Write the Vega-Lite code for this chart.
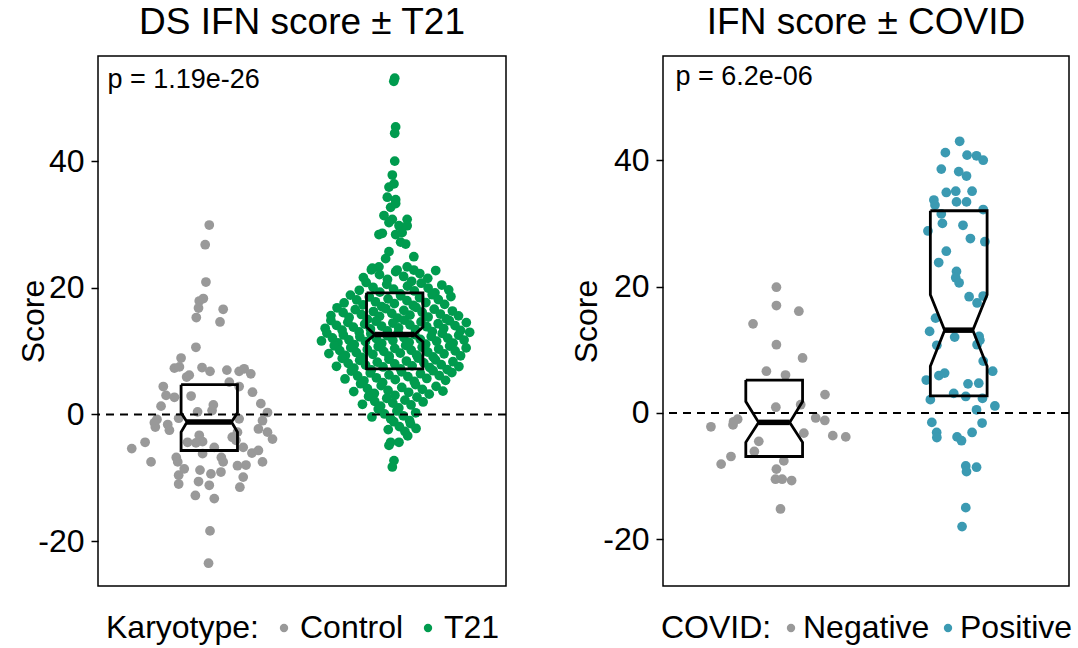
{
  "$schema": "https://vega.github.io/schema/vega-lite/v6.json",
  "padding": {"left": 17, "top": 3, "right": 2, "bottom": 2},
  "config": {
    "font": "Liberation Sans",
    "view": {"stroke": "black", "strokeWidth": 1.5},
    "axis": {"domain": false, "grid": false, "tickColor": "black", "tickWidth": 1.5, "tickSize": 7, "labelFontSize": 32, "labelColor": "black", "labelPadding": 7, "titleFontSize": 32, "titleFontWeight": "normal", "titleColor": "black", "titlePadding": -13, "labelFont": "Liberation Sans", "titleFont": "Liberation Sans", "labelExpr": "datum.value < 0 ? '-' + abs(datum.value) : '' + datum.value"},
    "title": {"fontSize": 37, "fontWeight": "normal", "color": "black", "offset": 14, "anchor": "middle", "frame": "group", "font": "Liberation Sans"},
    "legend": {"titleFontSize": 32, "labelFontSize": 32, "titleFontWeight": "normal", "titleColor": "black", "labelColor": "black", "symbolSize": 70, "symbolType": "circle", "symbolStrokeWidth": 0, "titlePadding": 9, "labelOffset": 0, "columnPadding": 8, "titleFont": "Liberation Sans", "labelFont": "Liberation Sans"}
  },
  "datasets": {
    "ds": [
      {"group":"Control","score":29.9,"jitter":0},{"group":"Control","score":26.8,"jitter":-0.022},{"group":"Control","score":20.9,"jitter":-0.018},{"group":"Control","score":17.9,"jitter":-0.054},{"group":"Control","score":18.3,"jitter":-0.032},{"group":"Control","score":16.8,"jitter":-0.058},{"group":"Control","score":16.6,"jitter":0.075},{"group":"Control","score":15.3,"jitter":-0.07},{"group":"Control","score":14.6,"jitter":0.058},{"group":"Control","score":10.6,"jitter":-0.072},
      {"group":"Control","score":8.9,"jitter":-0.152},{"group":"Control","score":7.3,"jitter":-0.188},{"group":"Control","score":7.5,"jitter":-0.161},{"group":"Control","score":7.4,"jitter":-0.039},{"group":"Control","score":6.8,"jitter":0.004},{"group":"Control","score":7.0,"jitter":0.095},{"group":"Control","score":6.8,"jitter":0.161},{"group":"Control","score":7.2,"jitter":0.188},{"group":"Control","score":6.4,"jitter":0.224},{"group":"Control","score":5.9,"jitter":-0.122},
      {"group":"Control","score":6.2,"jitter":-0.108},{"group":"Control","score":4.4,"jitter":-0.248},{"group":"Control","score":3.0,"jitter":-0.233},{"group":"Control","score":2.7,"jitter":-0.188},{"group":"Control","score":2.9,"jitter":-0.098},{"group":"Control","score":4.4,"jitter":0.161},{"group":"Control","score":3.5,"jitter":0.233},{"group":"Control","score":1.7,"jitter":0.278},{"group":"Control","score":1.3,"jitter":-0.26},{"group":"Control","score":0.4,"jitter":-0.063},
      {"group":"Control","score":0.6,"jitter":0.015},{"group":"Control","score":0.3,"jitter":0.314},{"group":"Control","score":-0.6,"jitter":-0.165},{"group":"Control","score":-1.3,"jitter":-0.296},{"group":"Control","score":-2.0,"jitter":-0.291},{"group":"Control","score":-1.6,"jitter":-0.224},{"group":"Control","score":-2.5,"jitter":-0.215},{"group":"Control","score":-1.0,"jitter":0.287},{"group":"Control","score":-2.3,"jitter":0.265},{"group":"Control","score":-0.7,"jitter":0.161},
      {"group":"Control","score":-2.8,"jitter":0.152},{"group":"Control","score":-2.8,"jitter":0.314},{"group":"Control","score":-3.9,"jitter":0.341},{"group":"Control","score":-3.3,"jitter":-0.054},{"group":"Control","score":-4.3,"jitter":-0.036},{"group":"Control","score":-4.5,"jitter":-0.072},{"group":"Control","score":-4.4,"jitter":-0.117},{"group":"Control","score":-4.4,"jitter":-0.346},{"group":"Control","score":-5.4,"jitter":-0.418},{"group":"Control","score":-4.1,"jitter":0.144},
      {"group":"Control","score":-5.2,"jitter":0.027},{"group":"Control","score":-5.2,"jitter":0.183},{"group":"Control","score":-6.2,"jitter":-0.036},{"group":"Control","score":-6.1,"jitter":0.23},{"group":"Control","score":-5.7,"jitter":0.265},{"group":"Control","score":-6.8,"jitter":-0.178},{"group":"Control","score":-7.5,"jitter":-0.17},{"group":"Control","score":-7.5,"jitter":-0.314},{"group":"Control","score":-6.8,"jitter":0.065},{"group":"Control","score":-7.5,"jitter":0.075},
      {"group":"Control","score":-8.1,"jitter":0.152},{"group":"Control","score":-8.0,"jitter":0.198},{"group":"Control","score":-7.5,"jitter":0.287},{"group":"Control","score":-8.8,"jitter":-0.05},{"group":"Control","score":-9.6,"jitter":-0.165},{"group":"Control","score":-11.0,"jitter":-0.165},{"group":"Control","score":-9.4,"jitter":0.009},{"group":"Control","score":-9.1,"jitter":0.063},{"group":"Control","score":-9.9,"jitter":0.183},{"group":"Control","score":-10.6,"jitter":-0.058},
      {"group":"Control","score":-11.2,"jitter":0},{"group":"Control","score":-11.5,"jitter":0.165},{"group":"Control","score":-12.8,"jitter":-0.075},{"group":"Control","score":-13.3,"jitter":0.027},{"group":"Control","score":-18.4,"jitter":0.004},{"group":"Control","score":-23.5,"jitter":-0.004},{"group":"Control","score":1.5,"jitter":0.022},{"group":"Control","score":-3.6,"jitter":0.124},{"group":"Control","score":-0.8,"jitter":-0.282},{"group":"Control","score":-8.6,"jitter":-0.135},{"group":"Control","score":5.1,"jitter":0.108},
      {"group":"T21","score":53.1,"jitter":0},{"group":"T21","score":52.6,"jitter":-0.005},{"group":"T21","score":45.4,"jitter":0.005},{"group":"T21","score":44.4,"jitter":0},{"group":"T21","score":40.0,"jitter":0},{"group":"T21","score":37.8,"jitter":-0.013},{"group":"T21","score":35.9,"jitter":-0.031},{"group":"T21","score":36.4,"jitter":-0.004},{"group":"T21","score":34.3,"jitter":-0.04},{"group":"T21","score":33.9,"jitter":0.005},
      {"group":"T21","score":32.7,"jitter":-0.022},{"group":"T21","score":33.3,"jitter":0.005},{"group":"T21","score":31.4,"jitter":-0.058},{"group":"T21","score":30.8,"jitter":-0.013},{"group":"T21","score":30.8,"jitter":0.067},{"group":"T21","score":30.3,"jitter":-0.031},{"group":"T21","score":29.8,"jitter":0.023},{"group":"T21","score":29.8,"jitter":0.067},{"group":"T21","score":28.4,"jitter":-0.085},{"group":"T21","score":28.6,"jitter":-0.067},
      {"group":"T21","score":28.4,"jitter":0.005},{"group":"T21","score":28.7,"jitter":0.04},{"group":"T21","score":27.2,"jitter":0.032},{"group":"T21","score":26.9,"jitter":0.059},{"group":"T21","score":25.7,"jitter":-0.031},{"group":"T21","score":24.6,"jitter":-0.049},{"group":"T21","score":24.9,"jitter":0.103},{"group":"T21","score":23.1,"jitter":-0.121},{"group":"T21","score":23.3,"jitter":-0.085},{"group":"T21","score":22.8,"jitter":0.013},{"group":"T21","score":23.3,"jitter":0.067},{"group":"T21","score":22.8,"jitter":0.103},
      {"group":"T21","score":21.6,"jitter":-0.169},{"group":"T21","score":22.84,"jitter":-0.126},{"group":"T21","score":22.07,"jitter":-0.082},{"group":"T21","score":21.31,"jitter":-0.039},{"group":"T21","score":22.54,"jitter":0.005},{"group":"T21","score":21.78,"jitter":0.048},{"group":"T21","score":21.02,"jitter":0.091},{"group":"T21","score":22.25,"jitter":0.135},{"group":"T21","score":21.49,"jitter":0.178},{"group":"T21","score":22.72,"jitter":0.221},
      {"group":"T21","score":19.6,"jitter":-0.191},{"group":"T21","score":20.84,"jitter":-0.154},{"group":"T21","score":20.07,"jitter":-0.117},{"group":"T21","score":19.31,"jitter":-0.08},{"group":"T21","score":20.54,"jitter":-0.043},{"group":"T21","score":19.78,"jitter":-0.006},{"group":"T21","score":19.02,"jitter":0.031},{"group":"T21","score":20.25,"jitter":0.069},{"group":"T21","score":19.49,"jitter":0.106},{"group":"T21","score":20.72,"jitter":0.143},{"group":"T21","score":19.96,"jitter":0.18},{"group":"T21","score":19.2,"jitter":0.217},{"group":"T21","score":20.43,"jitter":0.254},{"group":"T21","score":19.67,"jitter":0.291},
      {"group":"T21","score":17.6,"jitter":-0.273},{"group":"T21","score":18.84,"jitter":-0.239},{"group":"T21","score":18.07,"jitter":-0.205},{"group":"T21","score":17.31,"jitter":-0.171},{"group":"T21","score":18.54,"jitter":-0.137},{"group":"T21","score":17.78,"jitter":-0.104},{"group":"T21","score":17.02,"jitter":-0.07},{"group":"T21","score":18.25,"jitter":-0.036},{"group":"T21","score":17.49,"jitter":-0.002},{"group":"T21","score":18.72,"jitter":0.032},{"group":"T21","score":17.96,"jitter":0.066},{"group":"T21","score":17.2,"jitter":0.1},{"group":"T21","score":18.43,"jitter":0.134},{"group":"T21","score":17.67,"jitter":0.168},{"group":"T21","score":18.9,"jitter":0.202},{"group":"T21","score":18.14,"jitter":0.235},{"group":"T21","score":17.38,"jitter":0.269},{"group":"T21","score":18.61,"jitter":0.303},
      {"group":"T21","score":15.6,"jitter":-0.344},{"group":"T21","score":16.84,"jitter":-0.311},{"group":"T21","score":16.07,"jitter":-0.278},{"group":"T21","score":15.31,"jitter":-0.246},{"group":"T21","score":16.54,"jitter":-0.213},{"group":"T21","score":15.78,"jitter":-0.18},{"group":"T21","score":15.02,"jitter":-0.148},{"group":"T21","score":16.25,"jitter":-0.115},{"group":"T21","score":15.49,"jitter":-0.082},{"group":"T21","score":16.72,"jitter":-0.049},{"group":"T21","score":15.96,"jitter":-0.016},{"group":"T21","score":15.2,"jitter":0.016},{"group":"T21","score":16.43,"jitter":0.049},{"group":"T21","score":15.67,"jitter":0.082},{"group":"T21","score":16.9,"jitter":0.115},{"group":"T21","score":16.14,"jitter":0.148},{"group":"T21","score":15.38,"jitter":0.18},{"group":"T21","score":16.61,"jitter":0.213},{"group":"T21","score":15.85,"jitter":0.246},{"group":"T21","score":15.08,"jitter":0.278},{"group":"T21","score":16.32,"jitter":0.311},{"group":"T21","score":15.56,"jitter":0.344},
      {"group":"T21","score":13.6,"jitter":-0.375},{"group":"T21","score":14.84,"jitter":-0.344},{"group":"T21","score":14.07,"jitter":-0.314},{"group":"T21","score":13.31,"jitter":-0.284},{"group":"T21","score":14.54,"jitter":-0.253},{"group":"T21","score":13.78,"jitter":-0.223},{"group":"T21","score":13.02,"jitter":-0.192},{"group":"T21","score":14.25,"jitter":-0.162},{"group":"T21","score":13.49,"jitter":-0.131},{"group":"T21","score":14.72,"jitter":-0.101},{"group":"T21","score":13.96,"jitter":-0.071},{"group":"T21","score":13.2,"jitter":-0.04},{"group":"T21","score":14.43,"jitter":-0.01},{"group":"T21","score":13.67,"jitter":0.021},{"group":"T21","score":14.9,"jitter":0.051},{"group":"T21","score":14.14,"jitter":0.082},{"group":"T21","score":13.38,"jitter":0.112},{"group":"T21","score":14.61,"jitter":0.142},{"group":"T21","score":13.85,"jitter":0.173},{"group":"T21","score":13.08,"jitter":0.203},{"group":"T21","score":14.32,"jitter":0.234},{"group":"T21","score":13.56,"jitter":0.264},{"group":"T21","score":14.79,"jitter":0.295},{"group":"T21","score":14.03,"jitter":0.325},{"group":"T21","score":13.26,"jitter":0.355},{"group":"T21","score":14.5,"jitter":0.386},
      {"group":"T21","score":11.6,"jitter":-0.395},{"group":"T21","score":12.84,"jitter":-0.366},{"group":"T21","score":12.07,"jitter":-0.336},{"group":"T21","score":11.31,"jitter":-0.306},{"group":"T21","score":12.54,"jitter":-0.277},{"group":"T21","score":11.78,"jitter":-0.247},{"group":"T21","score":11.02,"jitter":-0.218},{"group":"T21","score":12.25,"jitter":-0.188},{"group":"T21","score":11.49,"jitter":-0.158},{"group":"T21","score":12.72,"jitter":-0.129},{"group":"T21","score":11.96,"jitter":-0.099},{"group":"T21","score":11.2,"jitter":-0.07},{"group":"T21","score":12.43,"jitter":-0.04},{"group":"T21","score":11.67,"jitter":-0.01},{"group":"T21","score":12.9,"jitter":0.019},{"group":"T21","score":12.14,"jitter":0.049},{"group":"T21","score":11.38,"jitter":0.078},{"group":"T21","score":12.61,"jitter":0.108},{"group":"T21","score":11.85,"jitter":0.138},{"group":"T21","score":11.08,"jitter":0.167},{"group":"T21","score":12.32,"jitter":0.197},{"group":"T21","score":11.56,"jitter":0.226},{"group":"T21","score":12.79,"jitter":0.256},{"group":"T21","score":12.03,"jitter":0.286},{"group":"T21","score":11.26,"jitter":0.315},{"group":"T21","score":12.5,"jitter":0.345},{"group":"T21","score":11.74,"jitter":0.374},{"group":"T21","score":12.97,"jitter":0.404},
      {"group":"T21","score":9.6,"jitter":-0.355},{"group":"T21","score":10.84,"jitter":-0.326},{"group":"T21","score":10.07,"jitter":-0.296},{"group":"T21","score":9.31,"jitter":-0.266},{"group":"T21","score":10.54,"jitter":-0.237},{"group":"T21","score":9.78,"jitter":-0.207},{"group":"T21","score":9.02,"jitter":-0.178},{"group":"T21","score":10.25,"jitter":-0.148},{"group":"T21","score":9.49,"jitter":-0.118},{"group":"T21","score":10.72,"jitter":-0.089},{"group":"T21","score":9.96,"jitter":-0.059},{"group":"T21","score":9.2,"jitter":-0.03},{"group":"T21","score":10.43,"jitter":0},{"group":"T21","score":9.67,"jitter":0.03},{"group":"T21","score":10.9,"jitter":0.059},{"group":"T21","score":10.14,"jitter":0.089},{"group":"T21","score":9.38,"jitter":0.118},{"group":"T21","score":10.61,"jitter":0.148},{"group":"T21","score":9.85,"jitter":0.178},{"group":"T21","score":9.08,"jitter":0.207},{"group":"T21","score":10.32,"jitter":0.237},{"group":"T21","score":9.56,"jitter":0.266},{"group":"T21","score":10.79,"jitter":0.296},{"group":"T21","score":10.03,"jitter":0.326},{"group":"T21","score":9.26,"jitter":0.355},{"group":"T21","score":10.5,"jitter":0.385},
      {"group":"T21","score":7.6,"jitter":-0.314},{"group":"T21","score":8.84,"jitter":-0.283},{"group":"T21","score":8.07,"jitter":-0.251},{"group":"T21","score":7.31,"jitter":-0.22},{"group":"T21","score":8.54,"jitter":-0.189},{"group":"T21","score":7.78,"jitter":-0.157},{"group":"T21","score":7.02,"jitter":-0.126},{"group":"T21","score":8.25,"jitter":-0.094},{"group":"T21","score":7.49,"jitter":-0.063},{"group":"T21","score":8.72,"jitter":-0.031},{"group":"T21","score":7.96,"jitter":0},{"group":"T21","score":7.2,"jitter":0.031},{"group":"T21","score":8.43,"jitter":0.063},{"group":"T21","score":7.67,"jitter":0.094},{"group":"T21","score":8.9,"jitter":0.126},{"group":"T21","score":8.14,"jitter":0.157},{"group":"T21","score":7.38,"jitter":0.189},{"group":"T21","score":8.61,"jitter":0.22},{"group":"T21","score":7.85,"jitter":0.251},{"group":"T21","score":7.08,"jitter":0.283},{"group":"T21","score":8.32,"jitter":0.314},{"group":"T21","score":7.56,"jitter":0.346},
      {"group":"T21","score":5.6,"jitter":-0.268},{"group":"T21","score":6.84,"jitter":-0.234},{"group":"T21","score":6.07,"jitter":-0.2},{"group":"T21","score":5.31,"jitter":-0.166},{"group":"T21","score":6.54,"jitter":-0.132},{"group":"T21","score":5.78,"jitter":-0.099},{"group":"T21","score":5.02,"jitter":-0.065},{"group":"T21","score":6.25,"jitter":-0.031},{"group":"T21","score":5.49,"jitter":0.003},{"group":"T21","score":6.72,"jitter":0.037},{"group":"T21","score":5.96,"jitter":0.071},{"group":"T21","score":5.2,"jitter":0.105},{"group":"T21","score":6.43,"jitter":0.139},{"group":"T21","score":5.67,"jitter":0.173},{"group":"T21","score":6.9,"jitter":0.207},{"group":"T21","score":6.14,"jitter":0.24},{"group":"T21","score":5.38,"jitter":0.274},{"group":"T21","score":6.61,"jitter":0.308},
      {"group":"T21","score":3.6,"jitter":-0.221},{"group":"T21","score":4.84,"jitter":-0.184},{"group":"T21","score":4.07,"jitter":-0.147},{"group":"T21","score":3.31,"jitter":-0.11},{"group":"T21","score":4.54,"jitter":-0.073},{"group":"T21","score":3.78,"jitter":-0.036},{"group":"T21","score":3.02,"jitter":0.001},{"group":"T21","score":4.25,"jitter":0.038},{"group":"T21","score":3.49,"jitter":0.075},{"group":"T21","score":4.72,"jitter":0.112},{"group":"T21","score":3.96,"jitter":0.149},{"group":"T21","score":3.2,"jitter":0.186},{"group":"T21","score":4.43,"jitter":0.223},{"group":"T21","score":3.67,"jitter":0.26},
      {"group":"T21","score":1.6,"jitter":-0.174},{"group":"T21","score":2.84,"jitter":-0.141},{"group":"T21","score":2.07,"jitter":-0.108},{"group":"T21","score":1.31,"jitter":-0.076},{"group":"T21","score":2.54,"jitter":-0.043},{"group":"T21","score":1.78,"jitter":-0.01},{"group":"T21","score":1.02,"jitter":0.022},{"group":"T21","score":2.25,"jitter":0.055},{"group":"T21","score":1.49,"jitter":0.088},{"group":"T21","score":2.72,"jitter":0.12},{"group":"T21","score":1.96,"jitter":0.153},
      {"group":"T21","score":-0.4,"jitter":-0.123},{"group":"T21","score":0.84,"jitter":-0.089},{"group":"T21","score":0.07,"jitter":-0.055},{"group":"T21","score":-0.69,"jitter":-0.022},{"group":"T21","score":0.54,"jitter":0.012},{"group":"T21","score":-0.22,"jitter":0.046},{"group":"T21","score":-0.98,"jitter":0.08},{"group":"T21","score":0.25,"jitter":0.113},
      {"group":"T21","score":-2.4,"jitter":-0.035},{"group":"T21","score":-1.16,"jitter":-0.005},{"group":"T21","score":-1.93,"jitter":0.025},{"group":"T21","score":-2.69,"jitter":0.055},{"group":"T21","score":-1.46,"jitter":0.085},{"group":"T21","score":-2.22,"jitter":0.115},
      {"group":"T21","score":-4.4,"jitter":-0.022},{"group":"T21","score":-4.4,"jitter":0.023},{"group":"T21","score":-4.9,"jitter":-0.031},{"group":"T21","score":-3.4,"jitter":0.07},{"group":"T21","score":-7.3,"jitter":-0.004},{"group":"T21","score":-8.3,"jitter":-0.013}
    ],
    "covid": [
      {"group":"Negative","score":19.9,"jitter":0.012},{"group":"Negative","score":17.0,"jitter":0.012},{"group":"Negative","score":16.1,"jitter":0.133},{"group":"Negative","score":14.1,"jitter":-0.114},{"group":"Negative","score":10.8,"jitter":0.012},{"group":"Negative","score":8.7,"jitter":0.153},{"group":"Negative","score":6.6,"jitter":-0.042},{"group":"Negative","score":6.0,"jitter":0.061},{"group":"Negative","score":2.9,"jitter":0.274},{"group":"Negative","score":0.9,"jitter":0.009},
      {"group":"Negative","score":1.3,"jitter":0.143},{"group":"Negative","score":-0.8,"jitter":0.224},{"group":"Negative","score":-1.2,"jitter":0.273},{"group":"Negative","score":-2.2,"jitter":-0.341},{"group":"Negative","score":-1.4,"jitter":-0.219},{"group":"Negative","score":-1.0,"jitter":-0.197},{"group":"Negative","score":-1.9,"jitter":-0.222},{"group":"Negative","score":-3.2,"jitter":0.16},{"group":"Negative","score":-3.6,"jitter":0.316},{"group":"Negative","score":-3.8,"jitter":0.386},
      {"group":"Negative","score":-4.5,"jitter":-0.083},{"group":"Negative","score":-6.1,"jitter":-0.107},{"group":"Negative","score":-6.9,"jitter":-0.233},{"group":"Negative","score":-8.1,"jitter":-0.286},{"group":"Negative","score":-7.6,"jitter":0.052},{"group":"Negative","score":-8.9,"jitter":0.012},{"group":"Negative","score":-10.5,"jitter":0.007},{"group":"Negative","score":-10.5,"jitter":0.043},{"group":"Negative","score":-10.7,"jitter":0.094},{"group":"Negative","score":-15.2,"jitter":0.034},
      {"group":"Positive","score":43.0,"jitter":0.005},{"group":"Positive","score":41.2,"jitter":-0.072},{"group":"Positive","score":40.8,"jitter":0.045},{"group":"Positive","score":40.7,"jitter":0.096},{"group":"Positive","score":40.0,"jitter":0.132},{"group":"Positive","score":38.6,"jitter":-0.094},{"group":"Positive","score":38.2,"jitter":0},{"group":"Positive","score":37.5,"jitter":0.042},{"group":"Positive","score":34.9,"jitter":-0.067},{"group":"Positive","score":35.1,"jitter":-0.016},
      {"group":"Positive","score":35.1,"jitter":0.072},{"group":"Positive","score":33.7,"jitter":-0.134},{"group":"Positive","score":32.9,"jitter":-0.128},{"group":"Positive","score":33.4,"jitter":-0.012},{"group":"Positive","score":33.4,"jitter":0.042},{"group":"Positive","score":32.2,"jitter":0.132},{"group":"Positive","score":31.5,"jitter":-0.094},{"group":"Positive","score":30.0,"jitter":-0.088},{"group":"Positive","score":28.8,"jitter":-0.166},{"group":"Positive","score":29.7,"jitter":0.023},
      {"group":"Positive","score":27.6,"jitter":0.063},{"group":"Positive","score":27.1,"jitter":0.141},{"group":"Positive","score":25.6,"jitter":-0.067},{"group":"Positive","score":23.8,"jitter":-0.108},{"group":"Positive","score":22.4,"jitter":-0.012},{"group":"Positive","score":21.4,"jitter":-0.016},{"group":"Positive","score":20.6,"jitter":0.002},{"group":"Positive","score":18.4,"jitter":0.056},{"group":"Positive","score":17.4,"jitter":0.099},{"group":"Positive","score":18.5,"jitter":0.132},
      {"group":"Positive","score":15.0,"jitter":-0.125},{"group":"Positive","score":12.9,"jitter":-0.157},{"group":"Positive","score":12.0,"jitter":-0.022},{"group":"Positive","score":12.1,"jitter":0.11},{"group":"Positive","score":11.5,"jitter":0.114},{"group":"Positive","score":10.8,"jitter":0.099},{"group":"Positive","score":10.7,"jitter":-0.118},{"group":"Positive","score":8.2,"jitter":0.132},{"group":"Positive","score":6.6,"jitter":0.183},{"group":"Positive","score":5.2,"jitter":-0.175},
      {"group":"Positive","score":5.9,"jitter":-0.107},{"group":"Positive","score":6.3,"jitter":-0.076},{"group":"Positive","score":4.6,"jitter":0.05},{"group":"Positive","score":4.7,"jitter":0.108},{"group":"Positive","score":3.1,"jitter":-0.027},{"group":"Positive","score":2.6,"jitter":0.038},{"group":"Positive","score":2.1,"jitter":-0.153},{"group":"Positive","score":2.3,"jitter":0.128},{"group":"Positive","score":1.1,"jitter":0.195},{"group":"Positive","score":0.5,"jitter":0.096},
      {"group":"Positive","score":-1.5,"jitter":-0.145},{"group":"Positive","score":-1.6,"jitter":0.126},{"group":"Positive","score":-3.1,"jitter":-0.119},{"group":"Positive","score":-3.9,"jitter":-0.118},{"group":"Positive","score":-3.1,"jitter":0.072},{"group":"Positive","score":-3.8,"jitter":-0.009},{"group":"Positive","score":-4.4,"jitter":0.015},{"group":"Positive","score":-8.4,"jitter":0.038},{"group":"Positive","score":-9.3,"jitter":0.042},{"group":"Positive","score":-8.6,"jitter":0.096},
      {"group":"Positive","score":-15.0,"jitter":0.038},{"group":"Positive","score":-18.0,"jitter":0.018}
    ],
    "box_ds": [
      {"group":"Control","part":"outline","ord":0,"dx":-0.152,"score":4.7},{"group":"Control","part":"outline","ord":1,"dx":0.152,"score":4.7},{"group":"Control","part":"outline","ord":2,"dx":0.152,"score":0.25},{"group":"Control","part":"outline","ord":3,"dx":0.12,"score":-1.2},{"group":"Control","part":"outline","ord":4,"dx":0.152,"score":-2.8},{"group":"Control","part":"outline","ord":5,"dx":0.152,"score":-5.7},{"group":"Control","part":"outline","ord":6,"dx":-0.152,"score":-5.7},{"group":"Control","part":"outline","ord":7,"dx":-0.152,"score":-2.8},{"group":"Control","part":"outline","ord":8,"dx":-0.12,"score":-1.2},{"group":"Control","part":"outline","ord":9,"dx":-0.152,"score":0.25},{"group":"Control","part":"outline","ord":10,"dx":-0.152,"score":4.7},
      {"group":"Control","part":"median","ord":0,"dx":-0.12,"score":-1.2},{"group":"Control","part":"median","ord":1,"dx":0.12,"score":-1.2},
      {"group":"T21","part":"outline","ord":0,"dx":-0.152,"score":19.2},{"group":"T21","part":"outline","ord":1,"dx":0.152,"score":19.2},{"group":"T21","part":"outline","ord":2,"dx":0.152,"score":13.8},{"group":"T21","part":"outline","ord":3,"dx":0.107,"score":12.6},{"group":"T21","part":"outline","ord":4,"dx":0.152,"score":11.5},{"group":"T21","part":"outline","ord":5,"dx":0.152,"score":7.2},{"group":"T21","part":"outline","ord":6,"dx":-0.152,"score":7.2},{"group":"T21","part":"outline","ord":7,"dx":-0.152,"score":11.5},{"group":"T21","part":"outline","ord":8,"dx":-0.107,"score":12.6},{"group":"T21","part":"outline","ord":9,"dx":-0.152,"score":13.8},{"group":"T21","part":"outline","ord":10,"dx":-0.152,"score":19.2},
      {"group":"T21","part":"median","ord":0,"dx":-0.107,"score":12.6},{"group":"T21","part":"median","ord":1,"dx":0.107,"score":12.6}
    ],
    "box_cv": [
      {"group":"Negative","part":"outline","ord":0,"dx":-0.153,"score":5.2},{"group":"Negative","part":"outline","ord":1,"dx":0.153,"score":5.2},{"group":"Negative","part":"outline","ord":2,"dx":0.153,"score":1.8},{"group":"Negative","part":"outline","ord":3,"dx":0.084,"score":-1.5},{"group":"Negative","part":"outline","ord":4,"dx":0.153,"score":-4.65},{"group":"Negative","part":"outline","ord":5,"dx":0.153,"score":-6.9},{"group":"Negative","part":"outline","ord":6,"dx":-0.153,"score":-6.9},{"group":"Negative","part":"outline","ord":7,"dx":-0.153,"score":-4.65},{"group":"Negative","part":"outline","ord":8,"dx":-0.084,"score":-1.5},{"group":"Negative","part":"outline","ord":9,"dx":-0.153,"score":1.8},{"group":"Negative","part":"outline","ord":10,"dx":-0.153,"score":5.2},
      {"group":"Negative","part":"median","ord":0,"dx":-0.084,"score":-1.5},{"group":"Negative","part":"median","ord":1,"dx":0.084,"score":-1.5},
      {"group":"Positive","part":"outline","ord":0,"dx":-0.153,"score":32.0},{"group":"Positive","part":"outline","ord":1,"dx":0.153,"score":32.0},{"group":"Positive","part":"outline","ord":2,"dx":0.153,"score":18.7},{"group":"Positive","part":"outline","ord":3,"dx":0.076,"score":13.1},{"group":"Positive","part":"outline","ord":4,"dx":0.153,"score":7.4},{"group":"Positive","part":"outline","ord":5,"dx":0.153,"score":2.7},{"group":"Positive","part":"outline","ord":6,"dx":-0.153,"score":2.7},{"group":"Positive","part":"outline","ord":7,"dx":-0.153,"score":7.4},{"group":"Positive","part":"outline","ord":8,"dx":-0.076,"score":13.1},{"group":"Positive","part":"outline","ord":9,"dx":-0.153,"score":18.7},{"group":"Positive","part":"outline","ord":10,"dx":-0.153,"score":32.0},
      {"group":"Positive","part":"median","ord":0,"dx":-0.076,"score":13.1},{"group":"Positive","part":"median","ord":1,"dx":0.076,"score":13.1}
    ]
  },
  "spacing": 62,
  "resolve": {"scale": {"color": "independent"}, "legend": {"color": "independent"}},
  "hconcat": [
    {
      "width": 408,
      "height": 530,
      "title": "DS IFN score ± T21",
      "layer": [
        {
          "data": {"name": "ds"},
          "mark": {"type": "circle", "size": 95, "opacity": 1},
          "encoding": {
            "x": {"field": "group", "type": "nominal", "axis": null, "scale": {"domain": ["Control", "T21"], "paddingInner": 0, "paddingOuter": 0.1}},
            "xOffset": {"field": "jitter", "type": "quantitative", "scale": {"domain": [-0.5, 0.5]}},
            "y": {"field": "score", "type": "quantitative", "scale": {"domain": [-27.1, 56.6], "nice": false, "zero": false}, "axis": {"title": "Score", "values": [-20, 0, 20, 40]}},
            "color": {"field": "group", "type": "nominal", "scale": {"domain": ["Control", "T21"], "range": ["#999999", "#009B4E"]}, "legend": {"title": "Karyotype:", "orient": "none", "legendX": 8, "legendY": 556, "direction": "horizontal", "titleOrient": "left"}}
          }
        },
        {
          "data": {"values": [{}]},
          "mark": {"type": "rule", "strokeDash": [8, 6], "strokeWidth": 2, "color": "black"},
          "encoding": {"y": {"datum": 0}}
        },
        {
          "data": {"name": "box_ds"},
          "transform": [{"filter": "datum.part === 'outline'"}],
          "mark": {"type": "line", "color": "black", "strokeWidth": 2.8, "strokeJoin": "miter"},
          "encoding": {
            "x": {"field": "group", "type": "nominal"},
            "xOffset": {"field": "dx", "type": "quantitative"},
            "y": {"field": "score", "type": "quantitative"},
            "detail": {"field": "group"},
            "order": {"field": "ord", "type": "quantitative"}
          }
        },
        {
          "data": {"name": "box_ds"},
          "transform": [{"filter": "datum.part === 'median'"}],
          "mark": {"type": "line", "color": "black", "strokeWidth": 5.5},
          "encoding": {
            "x": {"field": "group", "type": "nominal"},
            "xOffset": {"field": "dx", "type": "quantitative"},
            "y": {"field": "score", "type": "quantitative"},
            "detail": {"field": "group"},
            "order": {"field": "ord", "type": "quantitative"}
          }
        },
        {
          "data": {"values": [{}]},
          "mark": {"type": "text", "align": "left", "baseline": "alphabetic", "fontSize": 27, "font": "Liberation Sans", "color": "black"},
          "encoding": {
            "x": {"datum": "Control"},
            "xOffset": {"datum": -0.549},
            "y": {"datum": 51.5},
            "text": {"value": "p = 1.19e-26"}
          }
        }
      ]
    },
    {
      "width": 406,
      "height": 530,
      "title": "IFN score ± COVID",
      "layer": [
        {
          "data": {"name": "covid"},
          "mark": {"type": "circle", "size": 95, "opacity": 1},
          "encoding": {
            "x": {"field": "group", "type": "nominal", "axis": null, "scale": {"domain": ["Negative", "Positive"], "paddingInner": 0, "paddingOuter": 0.1}},
            "xOffset": {"field": "jitter", "type": "quantitative", "scale": {"domain": [-0.5, 0.5]}},
            "y": {"field": "score", "type": "quantitative", "scale": {"domain": [-27.4, 56.5], "nice": false, "zero": false}, "axis": {"title": "Score", "values": [-20, 0, 20, 40], "titlePadding": -1}},
            "color": {"field": "group", "type": "nominal", "scale": {"domain": ["Negative", "Positive"], "range": ["#999999", "#3B9AB2"]}, "legend": {"title": "COVID:", "orient": "none", "legendX": -2, "legendY": 556, "direction": "horizontal", "titleOrient": "left", "titlePadding": 3, "labelOffset": -4, "columnPadding": 2}}
          }
        },
        {
          "data": {"values": [{}]},
          "mark": {"type": "rule", "strokeDash": [8, 6], "strokeWidth": 2, "color": "black"},
          "encoding": {"y": {"datum": 0}}
        },
        {
          "data": {"name": "box_cv"},
          "transform": [{"filter": "datum.part === 'outline'"}],
          "mark": {"type": "line", "color": "black", "strokeWidth": 2.8, "strokeJoin": "miter"},
          "encoding": {
            "x": {"field": "group", "type": "nominal"},
            "xOffset": {"field": "dx", "type": "quantitative"},
            "y": {"field": "score", "type": "quantitative"},
            "detail": {"field": "group"},
            "order": {"field": "ord", "type": "quantitative"}
          }
        },
        {
          "data": {"name": "box_cv"},
          "transform": [{"filter": "datum.part === 'median'"}],
          "mark": {"type": "line", "color": "black", "strokeWidth": 5.5},
          "encoding": {
            "x": {"field": "group", "type": "nominal"},
            "xOffset": {"field": "dx", "type": "quantitative"},
            "y": {"field": "score", "type": "quantitative"},
            "detail": {"field": "group"},
            "order": {"field": "ord", "type": "quantitative"}
          }
        },
        {
          "data": {"values": [{}]},
          "mark": {"type": "text", "align": "left", "baseline": "alphabetic", "fontSize": 27, "font": "Liberation Sans", "color": "black"},
          "encoding": {
            "x": {"datum": "Negative"},
            "xOffset": {"datum": -0.532},
            "y": {"datum": 51.9},
            "text": {"value": "p = 6.2e-06"}
          }
        }
      ]
    }
  ]
}
